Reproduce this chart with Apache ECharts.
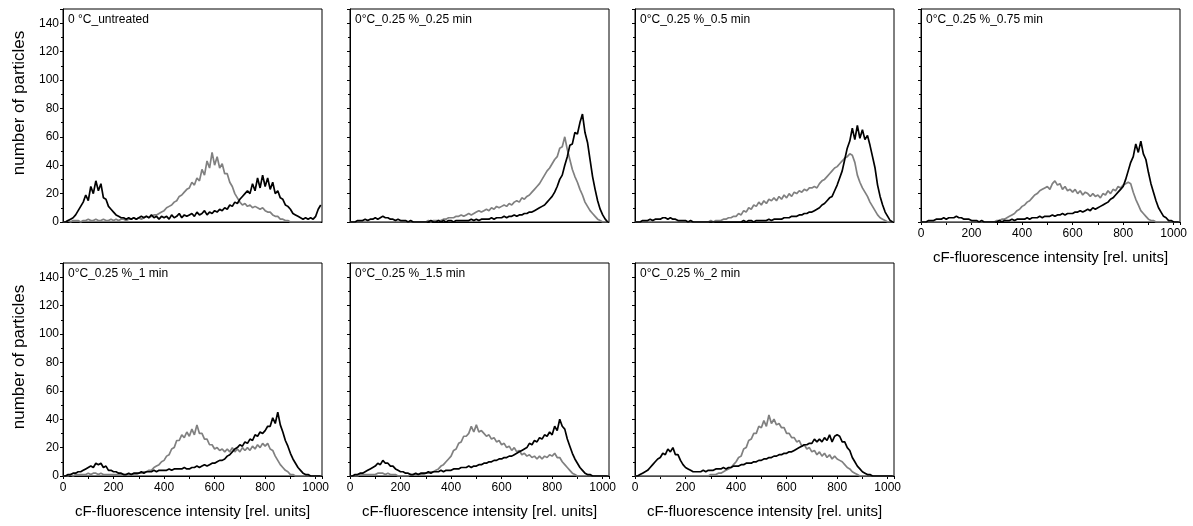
<!DOCTYPE html>
<html>
<head>
<meta charset="utf-8">
<script src="https://cdn.jsdelivr.net/npm/echarts@6/dist/echarts.min.js"></script>
<style>
  html, body { margin: 0; padding: 0; background: #fff; }
  #chart { width: 1193px; height: 526px; }
</style>
</head>
<body>
<div id="chart"></div>
<script>
// Histogram bins: 10 rel. units wide, starting at 0 (103 bins up to 1020)
const BIN_WIDTH = 10;
const BIN_COUNT = 103;
const intensity = Array.from({ length: BIN_COUNT }, (_, i) => i * BIN_WIDTH);

const panelTitles = [
  '0 °C_untreated',
  '0°C_0.25 %_0.25 min',
  '0°C_0.25 %_0.5 min',
  '0°C_0.25 %_0.75 min',
  '0°C_0.25 %_1 min',
  '0°C_0.25 %_1.5 min',
  '0°C_0.25 %_2 min'
];

const xTickLabels = [0, 200, 400, 600, 800, 1000];
const yTickLabels = [0, 20, 40, 60, 80, 100, 120, 140];

// particle counts per bin, black trace
const untreatedBlack = [0,0,1,2,3,5,8,11,14,19, 15,25,20,29,22,27,17,16,11,9, 7,5,4,3,3,2,3,2,3,2, 3,4,3,4,3,5,3,4,2,4, 3,4,2,5,3,4,6,3,5,4, 5,6,4,7,5,6,8,5,7,6, 8,7,9,8,10,9,12,11,14,13, 16,18,20,22,20,27,22,31,24,33, 25,31,23,28,20,22,17,16,12,11, 9,6,5,4,3,2,3,2,3,2, 4,9,12];
const min025Black = [0,0,0,1,1,1,2,1,2,2, 3,2,3,4,3,3,2,2,1,2, 1,1,1,0,1,0,0,0,0,0, 0,0,1,0,0,1,0,1,0,1, 1,0,1,1,1,1,1,1,2,1, 2,1,2,2,2,2,3,2,3,3, 3,4,3,4,4,5,4,5,5,6, 6,7,7,8,9,10,11,12,14,16, 18,21,25,30,33,40,46,54,55,63, 62,70,76,63,56,44,32,23,15,9, 5,2,0];
const min05Black = [0,0,0,1,1,1,2,1,2,2, 2,3,3,2,3,2,2,1,1,1, 1,0,1,0,0,0,0,0,0,0, 0,0,0,0,0,0,0,0,0,0, 0,0,0,1,0,1,1,0,1,1, 1,1,1,2,1,2,2,2,2,3, 3,3,4,4,4,5,5,6,6,7, 7,8,9,10,12,13,15,17,18,22, 26,31,36,44,52,57,66,58,68,59, 65,58,61,54,46,38,26,18,12,7, 4,1,0];
const min075Black = [0,0,0,1,1,1,2,2,2,3, 2,3,3,3,4,3,3,2,2,2, 1,1,1,0,1,0,0,0,0,0, 0,1,0,1,1,1,2,1,2,2, 2,2,3,2,3,3,3,4,3,4, 4,4,5,4,5,5,6,5,6,6, 6,7,7,8,7,8,9,8,10,9, 10,11,12,13,14,16,17,19,21,23, 25,30,36,42,46,55,49,57,48,44, 35,27,21,15,10,7,4,3,1,1, 0,0,0];
const min1Black = [0,0,1,1,2,2,3,3,4,5, 6,7,6,9,8,9,6,7,4,4, 3,3,2,2,1,1,2,1,2,2, 2,3,2,3,3,3,4,3,4,4, 4,4,5,4,5,5,5,5,6,5, 5,6,6,7,6,7,8,7,8,9, 9,10,11,11,12,14,15,17,19,20, 22,21,24,23,26,25,29,28,31,30, 32,35,35,41,37,45,36,31,25,21, 16,12,9,6,4,2,1,1,0,0, 0,0,0];
const min15Black = [0,0,1,1,2,2,3,4,5,6, 7,9,8,11,9,9,7,7,5,4, 3,3,2,2,1,1,2,1,2,2, 2,3,2,3,3,3,4,3,4,4, 4,5,5,5,6,6,6,7,6,7, 7,8,8,9,9,10,10,11,11,12, 12,13,13,14,14,15,16,17,18,19, 20,23,22,25,24,27,26,29,28,31, 29,35,32,40,35,33,26,21,16,12, 9,6,4,2,1,1,0,0,0,0, 0,0,0];
const min2Black = [0,0,1,2,3,4,6,8,10,12, 13,16,15,19,17,20,15,15,11,8, 6,5,4,3,3,3,3,4,3,4, 4,4,5,5,5,6,5,6,6,7, 7,7,8,8,9,9,9,10,10,11, 11,12,12,13,13,14,14,15,15,16, 16,17,17,18,19,20,21,22,22,23, 23,26,24,26,24,27,25,29,24,28, 29,28,24,24,20,18,13,10,7,5, 3,2,1,1,0,0,0,0,0,0, 0,0,0];

// particle counts per bin, grey trace
const untreatedGrey = [0,0,1,0,1,1,1,0,1,1, 2,1,1,2,1,1,2,1,1,2, 1,2,1,2,2,1,2,2,3,2, 3,2,3,4,3,4,5,5,6,7, 8,10,11,12,14,15,18,19,21,23, 24,28,26,31,29,37,33,43,38,49, 40,46,38,41,34,34,28,25,20,17, 14,12,13,11,12,10,11,10,9,10, 8,7,7,5,4,4,2,2,1,1, 0,0,0,0,0,0,0,0,0,0, 0,0,0];
const min025Grey = [0,0,0,0,0,0,0,0,0,0, 0,0,0,0,0,0,0,0,0,0, 0,0,0,0,0,0,0,0,0,0, 0,1,0,1,1,1,1,2,2,3, 3,3,4,4,5,4,5,6,5,6, 7,8,7,8,9,8,10,9,11,10, 11,12,11,13,12,14,15,14,17,16, 18,19,21,23,25,27,30,33,36,38, 41,44,46,52,53,60,51,44,37,32, 28,23,19,14,11,8,6,4,2,1, 0,0,0];
const min05Grey = [0,0,0,0,0,0,0,0,0,0, 0,0,0,0,0,0,0,0,0,0, 0,0,0,0,0,0,0,0,0,0, 1,0,1,1,1,2,2,3,3,4, 4,6,5,8,7,10,9,12,11,14, 12,15,13,16,15,17,15,18,16,19, 17,20,18,21,20,22,21,23,22,24, 24,25,24,27,29,30,32,34,36,38, 39,41,43,45,46,48,47,42,33,28, 24,21,18,14,11,8,5,3,2,1, 0,0,0];
const min075Grey = [0,0,0,0,0,0,0,0,0,0, 0,0,0,0,0,0,0,0,0,0, 0,0,0,0,0,0,0,0,0,0, 1,1,2,2,3,4,5,6,8,9, 11,12,14,15,17,19,20,22,23,24, 25,23,27,29,26,27,23,25,22,23, 21,23,20,22,19,21,20,18,20,18, 19,17,20,19,22,20,23,22,25,24, 26,27,28,27,21,16,12,8,6,4, 2,1,1,0,0,0,0,0,0,0, 0,0,0];
const min1Grey = [0,0,0,1,0,1,1,1,1,1, 2,1,2,2,1,2,1,1,1,1, 1,1,1,1,1,1,1,1,1,1, 2,2,3,3,4,4,6,7,8,10, 11,14,15,19,20,25,25,29,27,31, 28,33,29,36,30,30,26,26,22,22, 19,20,18,19,17,19,17,20,17,19, 17,20,18,20,18,21,19,22,20,23, 21,23,19,18,14,11,8,6,4,3, 1,1,0,0,0,0,0,0,0,0, 0,0,0];
const min15Grey = [0,0,0,0,1,1,1,1,1,1, 1,2,2,2,1,2,1,1,1,0, 0,0,0,0,1,1,1,1,1,1, 2,2,3,3,4,5,7,8,10,12, 14,18,19,23,24,28,28,30,35,31, 36,31,32,30,28,29,26,27,24,25, 22,23,20,21,18,20,17,18,15,16, 14,15,13,14,12,14,12,14,13,15, 14,16,13,13,10,8,6,4,2,1, 0,0,0,0,0,0,0,0,0,0, 0,0,0];
const min2Grey = [0,0,0,0,0,0,0,0,0,0, 0,0,0,0,0,0,0,0,0,0, 0,0,0,0,0,0,0,0,0,0, 1,1,1,2,2,3,4,5,6,8, 10,13,14,19,20,25,26,30,30,35, 34,39,35,43,37,40,36,37,34,34, 30,30,27,27,24,25,21,22,19,20, 17,18,15,17,14,16,13,15,12,14, 12,11,10,8,6,5,3,2,1,0, 0,0,0,0,0,0,0,0,0,0, 0,0,0];

const blackSeries = [untreatedBlack, min025Black, min05Black, min075Black, min1Black, min15Black, min2Black];
const greySeries  = [untreatedGrey, min025Grey, min05Grey, min075Grey, min1Grey, min15Grey, min2Grey];

// ---- layout ----
const FONT = '"Liberation Sans", Arial, sans-serif';
const colLeft = [63, 350, 635, 921];
const rowTop = [9, 263];
const PANEL_W = 259, PANEL_H = 213;
const X_MAX = 1025, Y_MAX = 150;

const pos = i => ({ row: i < 4 ? 0 : 1, col: i < 4 ? i : i - 4 });
const showXLabels = i => i >= 3;
const showYLabels = i => i === 0 || i === 4;

const grids = [], xAxes = [], yAxes = [], series = [], graphics = [];

panelTitles.forEach((title, i) => {
  const { row, col } = pos(i);
  const left = colLeft[col], top = rowTop[row];
  grids.push({
    left: left, top: top, width: PANEL_W, height: PANEL_H,
    show: true, borderColor: '#000', borderWidth: 1, backgroundColor: 'transparent'
  });
  const xs = showXLabels(i);
  xAxes.push({
    gridIndex: i, type: 'value', min: 0, max: X_MAX, interval: 200,
    axisLine: { show: true, onZero: false, lineStyle: { color: '#000', width: 1 } },
    axisTick: { show: xs, length: 3, lineStyle: { color: '#000' } },
    minorTick: { show: xs, splitNumber: 2, length: 3, lineStyle: { color: '#000' } },
    splitLine: { show: false },
    axisLabel: {
      show: xs, margin: 6, color: '#000', fontSize: 12, fontFamily: FONT,
      formatter: v => (xTickLabels.includes(v) ? String(v) : '')
    }
  });
  const ys = showYLabels(i);
  yAxes.push({
    gridIndex: i, type: 'value', min: 0, max: Y_MAX, interval: 20,
    axisLine: { show: true, onZero: false, lineStyle: { color: '#000', width: 1 } },
    axisTick: { show: true, length: 3, lineStyle: { color: '#000' } },
    minorTick: { show: true, splitNumber: 2, length: 2, lineStyle: { color: '#000' } },
    splitLine: { show: false },
    axisLabel: {
      show: ys, margin: 4, color: '#000', fontSize: 12, fontFamily: FONT,
      formatter: v => (yTickLabels.includes(v) ? String(v) : '')
    }
  });
  series.push({
    type: 'line', xAxisIndex: i, yAxisIndex: i, z: 2,
    data: greySeries[i].map((c, k) => [intensity[k], c]),
    showSymbol: false, silent: true,
    lineStyle: { color: '#808080', width: 1.7 }
  });
  series.push({
    type: 'line', xAxisIndex: i, yAxisIndex: i, z: 3,
    data: blackSeries[i].map((c, k) => [intensity[k], c]),
    showSymbol: false, silent: true,
    lineStyle: { color: '#000', width: 1.7 }
  });
  // panel caption, top-left inside the frame
  graphics.push({
    type: 'text', left: left + 5, top: top + 5,
    style: { text: title, fill: '#000', font: '12px ' + FONT }
  });
  // x-axis title under labelled panels
  if (xs) {
    graphics.push({
      type: 'text', x: left + PANEL_W / 2, y: top + PANEL_H + 36,
      style: { text: 'cF-fluorescence intensity [rel. units]', fill: '#000',
               font: '15px ' + FONT, align: 'center', verticalAlign: 'middle' }
    });
  }
});

// y-axis titles, one per row
[103, 357].forEach(cy => {
  graphics.push({
    type: 'text', x: 19, y: cy, rotation: Math.PI / 2,
    style: { text: 'number of particles', fill: '#000',
             font: '17px ' + FONT, align: 'center', verticalAlign: 'middle' }
  });
});

const chart = echarts.init(document.getElementById('chart'), null, { renderer: 'canvas' });
chart.setOption({
  animation: false,
  backgroundColor: '#fff',
  grid: grids,
  xAxis: xAxes,
  yAxis: yAxes,
  series: series,
  graphic: graphics
});
</script>
</body>
</html>
